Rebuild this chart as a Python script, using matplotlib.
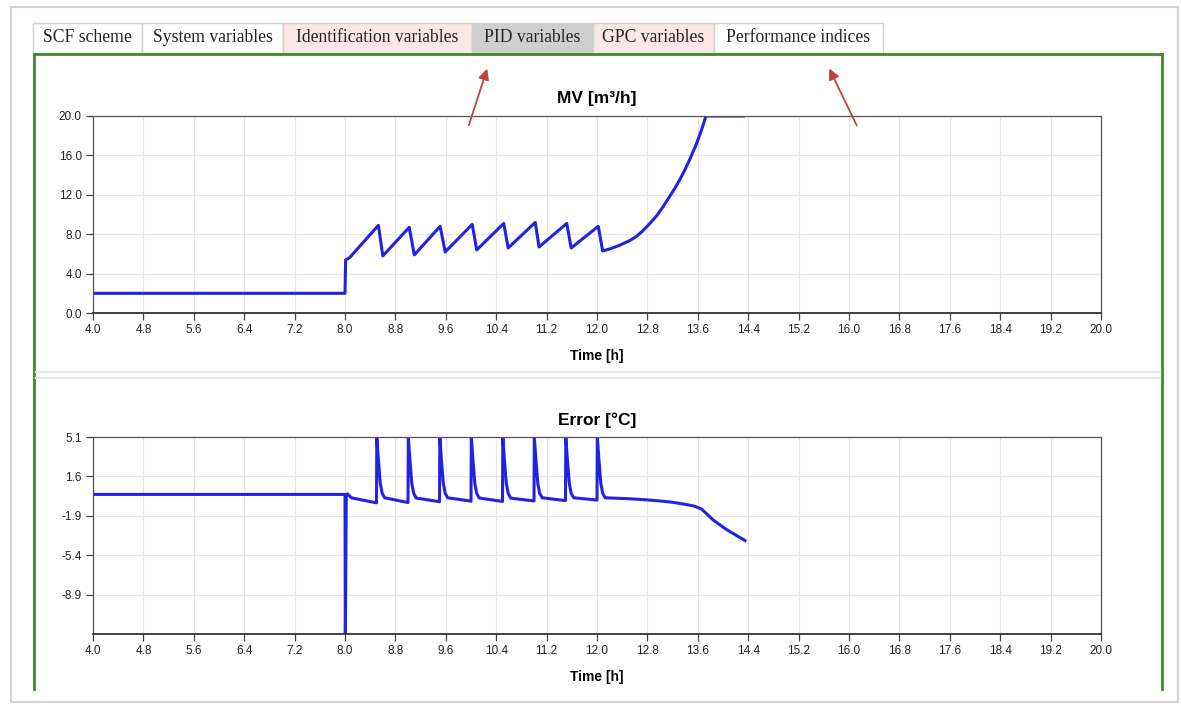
import matplotlib
matplotlib.use('Agg')
import matplotlib.pyplot as plt
from matplotlib.patches import Rectangle

# ---- data ----
mv_time = [4.0, 8.0, 8.01, 8.07, 8.53, 8.60, 9.02, 9.10, 9.51, 9.59, 10.02, 10.09,
           10.52, 10.59, 11.02, 11.08, 11.52, 11.59, 12.02, 12.09, 12.2, 12.35, 12.52,
           12.62, 12.72, 12.84, 12.95, 13.05, 13.14, 13.23, 13.32, 13.40, 13.48,
           13.58, 13.66, 13.73, 14.32]
mv_value = [2.0, 2.0, 5.4, 5.6, 8.9, 5.8, 8.7, 5.9, 8.8, 6.2, 9.0, 6.4,
            9.1, 6.6, 9.2, 6.7, 9.1, 6.6, 8.8, 6.3, 6.5, 6.85, 7.35,
            7.75, 8.3, 9.1, 9.9, 10.8, 11.7, 12.6, 13.6, 14.6, 15.7,
            17.2, 18.6, 20.0, 20.0]

err_time = [4.0, 8.0, 8.005, 8.02, 8.04, 8.1,
            8.5, 8.505, 8.53, 8.56, 8.59, 8.63,
            9.0, 9.005, 9.03, 9.06, 9.09, 9.13,
            9.5, 9.505, 9.53, 9.56, 9.59, 9.63,
            10.0, 10.005, 10.03, 10.06, 10.09, 10.13,
            10.5, 10.505, 10.53, 10.56, 10.59, 10.63,
            11.0, 11.005, 11.03, 11.06, 11.09, 11.13,
            11.5, 11.505, 11.53, 11.56, 11.59, 11.63,
            12.0, 12.005, 12.03, 12.06, 12.09, 12.13,
            12.5, 12.8, 13.0, 13.2, 13.4, 13.55, 13.66, 13.85, 14.05, 14.35]
err_value = [0.0, 0.0, -13.5, -0.1, 0.05, -0.3,
             -0.75, 5.0, 3.1, 1.0, 0.1, -0.3,
             -0.72, 5.1, 3.1, 1.0, 0.1, -0.32,
             -0.65, 5.1, 3.1, 1.0, 0.1, -0.3,
             -0.6, 5.1, 3.1, 1.0, 0.1, -0.32,
             -0.62, 5.1, 3.1, 1.0, 0.1, -0.33,
             -0.58, 5.1, 3.1, 1.0, 0.1, -0.3,
             -0.55, 5.1, 3.1, 1.0, 0.1, -0.3,
             -0.5, 5.1, 3.1, 1.0, 0.1, -0.3,
             -0.38, -0.49, -0.58, -0.7, -0.88, -1.05, -1.3, -2.3, -3.1, -4.1]

x_ticks = [4.0 + 0.8 * i for i in range(21)]
mv_ticks = [0.0, 4.0, 8.0, 12.0, 16.0, 20.0]
err_ticks = [-8.9, -5.4, -1.9, 1.6, 5.1]

tab_labels = ['SCF scheme', 'System variables', 'Identification variables',
              'PID variables', 'GPC variables', 'Performance indices']
tab_colors = ['white', 'white', '#fde6e6', '#cfcfcf', '#fde6e6', 'white']
tab_edges = [33, 142, 283, 472, 593, 714, 883]

W, H = 1181, 706
LINE = '#2222e6'
SANS = 'Liberation Sans'

fig = plt.figure(figsize=(W / 100, H / 100), dpi=100)

# background "page" axes in pixel coordinates
bg = fig.add_axes([0, 0, 1, 1])
bg.set_xlim(0, W)
bg.set_ylim(H, 0)
bg.axis('off')

bg.add_patch(Rectangle((11, 7), 1167, 695, facecolor='white',
                       edgecolor='#d2d2d2', lw=1.5))

for i, lab in enumerate(tab_labels):
    x0, x1 = tab_edges[i], tab_edges[i + 1]
    bg.add_patch(Rectangle((x0, 23), x1 - x0, 30, facecolor=tab_colors[i],
                           edgecolor='#d0d0d0', lw=1))
    bg.text((x0 + x1) / 2, 37, lab, ha='center', va='center',
            family='Liberation Serif', fontsize=12.7, color='#222222')

green = '#3f8a2c'
bg.plot([34, 1162], [54, 54], color=green, lw=2)
bg.plot([34, 34], [54, 689], color=green, lw=2)
bg.plot([1162, 1162], [54, 689], color=green, lw=2)

# separator between the two charts
bg.plot([36, 1160], [372, 372], color='#e8e8e8', lw=1.6)
bg.plot([36, 1160], [378, 378], color='#e8e8e8', lw=1.6)


def make_axes(top, bottom):
    ax = fig.add_axes([93 / W, (H - bottom) / H, 1008 / W, (bottom - top) / H])
    ax.set_xlim(4.0, 20.0)
    ax.set_xticks(x_ticks)
    ax.set_xticklabels(['%.1f' % t for t in x_ticks])
    ax.grid(True, color='#e6e6e6', lw=0.8)
    ax.set_axisbelow(True)
    for s in ax.spines.values():
        s.set_color('#555555')
        s.set_linewidth(0.9)
    ax.spines['bottom'].set_color('#333333')
    ax.spines['bottom'].set_linewidth(1.3)
    ax.tick_params(direction='out', length=5, width=0.9, color='#444444',
                   labelsize=8.5, labelcolor='#222222', pad=3)
    for lab in ax.get_xticklabels() + ax.get_yticklabels():
        lab.set_family(SANS)
    ax.set_xlabel('Time [h]', family=SANS, fontweight='bold',
                  fontsize=10, labelpad=9)
    return ax


ax1 = make_axes(116, 313)
ax1.plot(mv_time, mv_value, color=LINE, lw=2.2)
ax1.set_ylim(0, 20)
ax1.set_yticks(mv_ticks)
ax1.set_yticklabels(['%.1f' % v for v in mv_ticks], family=SANS)
ax1.set_title('MV [m³/h]', family=SANS, fontweight='bold', fontsize=12.5, pad=9)

ax2 = make_axes(437, 634)
ax2.plot(err_time, err_value, color=LINE, lw=2.2)
ax2.set_ylim(-12.4, 5.1)
ax2.set_yticks(err_ticks)
ax2.set_yticklabels(['%.1f' % v for v in err_ticks], family=SANS)
ax2.set_title('Error [°C]', family=SANS, fontweight='bold', fontsize=12.5, pad=9)

# overlay for the red annotation arrows (drawn above the charts)
top = fig.add_axes([0, 0, 1, 1], facecolor='none')
top.set_xlim(0, W)
top.set_ylim(H, 0)
top.axis('off')
arrow_kw = dict(arrowstyle='-|>', color='#c0443a', lw=1.3, mutation_scale=16)
top.annotate('', xy=(488, 66), xytext=(468, 128), arrowprops=arrow_kw)
top.annotate('', xy=(828, 66), xytext=(858, 128), arrowprops=arrow_kw)

fig.savefig('out.png', dpi=100)
